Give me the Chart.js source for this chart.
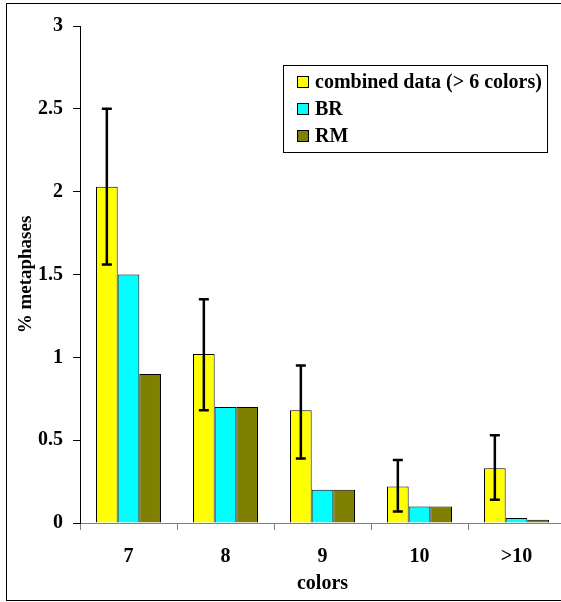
<!DOCTYPE html>
<html>
<head>
<meta charset="utf-8">
<script src="https://cdn.jsdelivr.net/npm/chart.js@4"></script>
<style>
    html, body { margin: 0; padding: 0; overflow: hidden; background: #fff; }
    #frame { position: absolute; left: 6px; top: 3px; width: 554px; height: 596px; border: 1px solid #000; border-right: none; overflow: hidden; }
    #barChart { display: block; }
</style>
</head>
<body>
<div id="frame"><canvas id="barChart" width="600" height="596"></canvas></div>
<script>
var categories = ['7', '8', '9', '10', '>10'];
var combinedData = [2.03, 1.02, 0.68, 0.22, 0.33];
var brData = [1.5, 0.7, 0.2, 0.1, 0.03];
var rmData = [0.9, 0.7, 0.2, 0.1, 0.02];
var errLow = [1.56, 0.68, 0.39, 0.07, 0.14];
var errHigh = [2.5, 1.35, 0.95, 0.38, 0.53];
var yTicks = [0, 0.5, 1, 1.5, 2, 2.5, 3];

document.addEventListener('DOMContentLoaded', function () {
    var ctx = document.getElementById('barChart').getContext('2d');
    var serif = { family: '"Liberation Serif", "Times New Roman", serif', size: 20, weight: 'bold' };

    // error bars on the combined series
    var errorBars = {
        id: 'errorBars',
        afterDatasetsDraw: function (chart) {
            var c = chart.ctx;
            var y = chart.scales.y;
            var meta = chart.getDatasetMeta(0);
            c.save();
            c.strokeStyle = '#000';
            c.lineWidth = 2.5;
            meta.data.forEach(function (bar, i) {
                var top = y.getPixelForValue(errHigh[i]);
                var bot = y.getPixelForValue(errLow[i]);
                c.beginPath();
                c.moveTo(bar.x, top);
                c.lineTo(bar.x, bot);
                c.moveTo(bar.x - 5, top);
                c.lineTo(bar.x + 5, top);
                c.moveTo(bar.x - 5, bot);
                c.lineTo(bar.x + 5, bot);
                c.stroke();
            });
            c.restore();
        }
    };

    // boxed legend inside the plot
    var boxLegend = {
        id: 'boxLegend',
        afterDraw: function (chart) {
            var c = chart.ctx;
            var left = 276, top = 61, w = 264, h = 87;
            c.save();
            c.fillStyle = '#fff';
            c.fillRect(left, top, w, h);
            c.strokeStyle = '#000';
            c.lineWidth = 1;
            c.strokeRect(left + 0.5, top + 0.5, w, h);
            c.font = 'bold 20px "Liberation Serif", serif';
            c.textBaseline = 'middle';
            chart.data.datasets.forEach(function (ds, i) {
                var cy = top + 17 + i * 27;
                c.fillStyle = ds.backgroundColor;
                c.fillRect(left + 14, cy - 6, 12, 12);
                c.strokeRect(left + 14.5, cy - 5.5, 11, 11);
                c.fillStyle = '#000';
                c.fillText(ds.label, left + 32, cy + 1);
            });
            c.restore();
        }
    };

    new Chart(ctx, {
        type: 'bar',
        data: {
            labels: categories,
            datasets: [{
                label: 'combined data (> 6 colors)',
                data: combinedData,
                backgroundColor: '#ffff00',
                borderColor: '#000',
                borderWidth: 1
            }, {
                label: 'BR',
                data: brData,
                backgroundColor: '#00ffff',
                borderColor: '#000',
                borderWidth: 1
            }, {
                label: 'RM',
                data: rmData,
                backgroundColor: '#808000',
                borderColor: '#000',
                borderWidth: 1
            }]
        },
        options: {
            responsive: false,
            animation: false,
            categoryPercentage: 0.67,
            barPercentage: 1,
            layout: { padding: { top: 18, right: 42, bottom: 0, left: 0 } },
            plugins: {
                legend: { display: false },
                tooltip: { enabled: false }
            },
            scales: {
                x: {
                    offset: true,
                    grid: { offset: true, drawOnChartArea: false, tickLength: 7, color: '#808080' },
                    border: { color: '#808080' },
                    ticks: { font: serif, color: '#000', padding: 15 },
                    title: { display: true, text: 'colors', font: serif, color: '#000', padding: { top: 0, bottom: 4 } },
                    afterFit: function (scale) { scale.height = 77; }
                },
                y: {
                    min: 0,
                    max: 3,
                    afterBuildTicks: function (scale) {
                        scale.ticks = yTicks.map(function (v) { return { value: v }; });
                    },
                    grid: { drawOnChartArea: false, tickLength: 7, color: '#000' },
                    border: { color: '#000' },
                    ticks: {
                        font: serif,
                        color: '#000',
                        padding: 10,
                        callback: function (value) { return String(value); }
                    },
                    title: { display: true, text: '% metaphases', font: { family: serif.family, size: 19, weight: 'bold' }, color: '#000', padding: { top: 8, bottom: 0 } },
                    afterFit: function (scale) { scale.width = 73; }
                }
            }
        },
        plugins: [errorBars, boxLegend]
    });
});
</script>
</body>
</html>
